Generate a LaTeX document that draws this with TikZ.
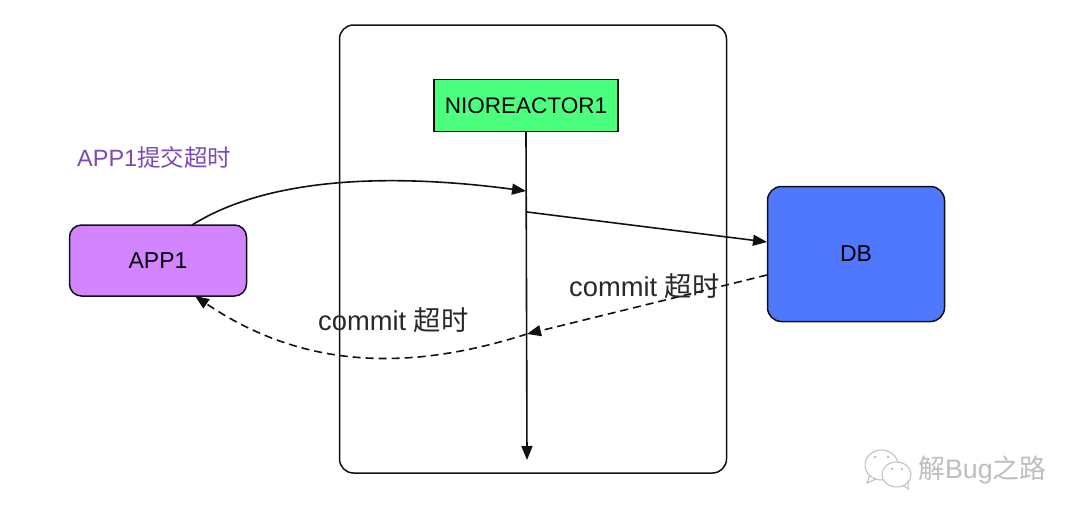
\documentclass[tikz,border=0pt]{standalone}
\usepackage{fontspec}
\setmainfont{Liberation Sans}
\newfontfamily\cjk{Noto Sans CJK SC}
\usetikzlibrary{arrows.meta}
\definecolor{inkc}{HTML}{111111}
\definecolor{appc}{HTML}{D285FF}
\definecolor{dbc}{HTML}{4F78FF}
\definecolor{nioc}{HTML}{4DFF7F}
\definecolor{purpc}{HTML}{7B4BB5}
\definecolor{wmc}{HTML}{BEBEBE}
\tikzset{
  x=1pt,y=-1pt,
  conn/.style={draw=inkc,line width=1.6pt,-{Triangle[length=14pt,width=11pt]}},
  dashconn/.style={conn,dash pattern=on 8pt off 5pt},
  boxn/.style={draw=inkc,line width=1.5pt,rounded corners=12pt,minimum height=0pt,inner sep=0pt,font=\fontsize{23}{23}\selectfont},
  lab/.style={inner sep=0pt,text=inkc!90!white,font=\fontsize{27.3}{27.3}\selectfont},
  wm/.style={draw=wmc,fill=white,line width=1pt},
}
\begin{document}
\begin{tikzpicture}
\useasboundingbox (0,0) rectangle (1080,520);
\fill[white] (0,0) rectangle (1080,520);
\node[draw=inkc,line width=1.5pt,rounded corners=14pt,minimum width=387pt,minimum height=448pt,inner sep=0pt] (frame) at (533,249) {};
\node[boxn,fill=appc,minimum width=177pt,minimum height=71pt] (app) at (158,260.5) {APP1};
\node[boxn,fill=dbc,minimum width=177pt,minimum height=135pt,rounded corners=14pt] (db) at (856,254) {DB};
\node[draw=inkc,line width=1.4pt,fill=nioc,minimum width=184pt,minimum height=52pt,inner sep=0pt,font=\fontsize{22.5}{22.5}\selectfont] (nio) at (526,105.5) {NIOREACTOR1};
\coordinate (lifeend) at (527,460);
\coordinate (lifein) at (526,191);
\coordinate (lifeout) at (527,212);
\coordinate (lifeback) at (527,334);
\coordinate (appout) at (192,225);
\coordinate (appin) at (195,296);
\coordinate (dbin) at (767,242);
\coordinate (dbout) at (767,275);
\draw[conn] (nio.south -| 526,0) -- (lifeend);
\draw[conn] (appout) .. controls (280,170) and (420,177) .. (lifein);
\draw[conn] (lifeout) -- (dbin);
\draw[dashconn] (dbout) -- (lifeback);
\draw[dashconn] (lifeback) .. controls (420,368) and (310,374) .. (appin);
\node[lab,anchor=west] (c1) at (318,320) {commit {\cjk 超时}};
\node[lab,anchor=west] (c2) at (569,286) {commit {\cjk 超时}};
\node[inner sep=0pt,anchor=west,text=purpc,font=\fontsize{23.5}{23.5}\selectfont] (title) at (77,157) {APP1{\cjk 提交超时}};
\draw[wm] (870,474) -- (867,483) -- (878,478);
\draw[wm] (881.5,465) ellipse (16.5 and 15);
\draw[wm] (902,484) -- (908,489) -- (908,481);
\draw[wm] (896.5,474.5) ellipse (14.5 and 12.5);
\fill[wmc] (875,457) circle (1.3) (888,457) circle (1.3) (892,469) circle (1.3) (902,469) circle (1.3);
\node[inner sep=0pt,anchor=west,text=wmc,font=\fontsize{26.8}{26.8}\selectfont] (wmark) at (918,470) {{\cjk 解}Bug{\cjk 之路}};
\end{tikzpicture}
\end{document}
